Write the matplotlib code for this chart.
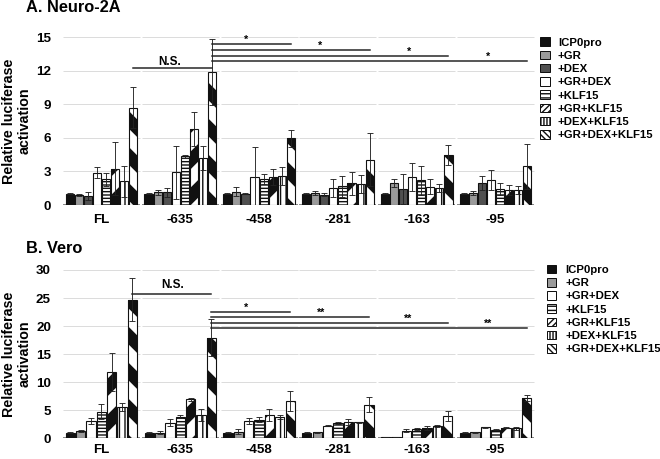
import matplotlib
matplotlib.use("Agg")
import matplotlib.pyplot as plt
from matplotlib.patches import Rectangle
from matplotlib.collections import LineCollection
from matplotlib.transforms import IdentityTransform
import numpy as np

plt.rcParams['font.family'] = ['Liberation Sans', 'DejaVu Sans']
plt.rcParams['font.weight'] = 'bold'

# ---------------- data ----------------
groups = ["FL", "-635", "-458", "-281", "-163", "-95"]

# Panel A: Neuro-2A
a_labels = ["ICP0pro", "+GR", "+DEX", "+GR+DEX", "+KLF15", "+GR+KLF15", "+DEX+KLF15", "+GR+DEX+KLF15"]
a_icp0 = [1.0, 1.0, 1.0, 1.0, 1.0, 1.0]
a_gr = [0.9, 1.13, 1.17, 1.07, 1.97, 1.07]
a_dex = [0.8, 1.13, 1.0, 0.93, 1.4, 1.97]
a_grdex = [2.87, 2.93, 2.5, 1.52, 2.5, 2.2]
a_klf = [2.3, 4.36, 2.33, 1.67, 2.2, 1.4]
a_grklf = [3.25, 6.78, 2.48, 1.94, 1.64, 1.34]
a_dexklf = [2.1, 4.2, 2.57, 1.85, 1.52, 1.34]
a_all = [8.7, 11.9, 5.94, 4.03, 4.5, 3.47]

a_icp0_err = [0.05, 0.05, 0.05, 0.05, 0.05, 0.05]
a_gr_err = [0.12, 0.24, 0.41, 0.18, 0.39, 0.21]
a_dex_err = [0.35, 0.42, 0.05, 0.17, 1.35, 0.6]
a_grdex_err = [0.48, 2.37, 2.64, 0.84, 1.23, 0.9]
a_klf_err = [0.6, 0.14, 0.42, 0.93, 1.32, 0.54]
a_grklf_err = [2.35, 1.52, 0.72, 1.02, 0.66, 0.48]
a_dexklf_err = [1.35, 1.1, 0.78, 0.81, 0.38, 0.36]
a_all_err = [1.8, 2.95, 0.76, 2.37, 0.9, 2.0]

a_ns_y = 12.22
a_sig_y = [14.37, 13.86, 13.33, 12.85]
a_sig_end = [2, 3, 4, 5]
a_sig_text = ["*", "*", "*", "*"]
a_sig_text_x = [1.83, 2.77, 3.90, 4.90]

# Panel B: Vero
b_labels = ["ICP0pro", "+GR", "+GR+DEX", "+KLF15", "+GR+KLF15", "+DEX+KLF15", "+GR+DEX+KLF15"]
b_icp0 = [1.0, 1.0, 1.0, 1.0, 0.25, 1.0]
b_gr = [1.3, 1.0, 1.2, 1.1, 0.2, 1.07]
b_grdex = [3.1, 2.8, 3.15, 2.26, 1.37, 1.96]
b_klf = [4.75, 3.86, 3.3, 2.67, 1.66, 1.55]
b_grklf = [11.8, 6.95, 4.1, 2.85, 1.85, 1.9]
b_dexklf = [5.6, 4.1, 3.8, 2.85, 2.2, 1.8]
b_all = [24.7, 17.9, 6.7, 6.0, 4.0, 7.13]

b_icp0_err = [0.1, 0.1, 0.1, 0.1, 0.05, 0.1]
b_gr_err = [0.25, 0.3, 0.4, 0.1, 0.05, 0.1]
b_grdex_err = [0.6, 0.65, 0.55, 0.15, 0.33, 0.14]
b_klf_err = [1.35, 0.24, 0.45, 0.15, 0.19, 0.1]
b_grklf_err = [3.35, 0.3, 1.1, 0.55, 0.35, 0.15]
b_dexklf_err = [0.75, 1.1, 0.35, 0.1, 0.25, 0.3]
b_all_err = [3.8, 3.3, 1.8, 1.4, 0.9, 0.57]

b_ns_y = 25.7
b_sig_y = [22.6, 21.6, 20.6, 19.7]
b_sig_end = [2, 3, 4, 5]
b_sig_text = ["*", "**", "**", "**"]
b_sig_text_x = [1.83, 2.79, 3.89, 4.90]

# ---------------- styles ----------------
# rendered at 200 dpi on a 3.3 x 2.295 in canvas -> 660 x 459 px
S = 0.5                 # point scale relative to a 100-dpi layout
PX = 72.0 / 200.0       # points per pixel
plt.rcParams['hatch.linewidth'] = 1.4 * PX

# fc, bar hatch, diagonal stripe direction (+1 '/', -1 '\'), legend hatch
styles = {
    "ICP0pro":        dict(fc="#111111", hatch=None, diag=0, lh=None),
    "+GR":            dict(fc="#9a9a9a", hatch=None, diag=0, lh=None),
    "+DEX":           dict(fc="#505050", hatch=None, diag=0, lh=None),
    "+GR+DEX":        dict(fc="white", hatch=None, diag=0, lh=None),
    "+KLF15":         dict(fc="white", hatch="-" * 10, diag=0, lh="-" * 8),
    "+GR+KLF15":      dict(fc="white", hatch=None, diag=1, lh="/" * 11),
    "+DEX+KLF15":     dict(fc="white", hatch="|" * 6, diag=0, lh="|" * 11),
    "+GR+DEX+KLF15":  dict(fc="white", hatch=None, diag=-1, lh="\\" * 11),
}
STRIPE_PERIOD = 36.0          # px, vertical period of wide diagonal stripes
STRIPE_LW = 12.5 * PX         # points

fs_tick = 9.6 * S
fs_ylab = 10.3 * S
fs_title = 11.8 * S
fs_leg = 8.2 * S
fs_sig = 8.5 * S

fig = plt.figure(figsize=(3.3, 2.295), dpi=200)
W, H = 660.0, 459.0


def add_stripes(ax, bars, sign):
    P = STRIPE_PERIOD
    for b in bars:
        bb = b.get_window_extent()
        x0, x1, y0, y1 = bb.x0, bb.x1, bb.y0, bb.y1
        if sign > 0:
            cmin, cmax = y0 - x1, y1 - x0
        else:
            cmin, cmax = y0 + x0, y1 + x1
        segs = []
        for k in range(int(np.floor(cmin / P)) - 1, int(np.ceil(cmax / P)) + 2):
            xs = np.array([x0 - 30, x1 + 30])
            ys = sign * xs + k * P
            segs.append(list(zip(xs, ys)))
        lc = LineCollection(segs, colors="#111111", linewidths=STRIPE_LW,
                            transform=IdentityTransform(), zorder=2.5)
        ax.add_collection(lc, autolim=False)
        lc.set_clip_path(b)


def panel(ax, labels, values, errs, ymax, ystep, ns_y, sig_y, sig_end, sig_text, sig_text_x,
          ns_xy, star_dy, tick_pad):
    n = len(labels)
    ng = len(groups)
    step = 0.92 / n
    x = np.arange(ng)
    last_off = ((n - 1) / 2.0) * step
    ax.set_xlim(-0.5, ng - 0.5)
    ax.set_ylim(0, ymax)
    yt = np.arange(0, ymax + 0.001, ystep)
    for i in range(ng):
        ax.hlines(yt[1:], i - 0.5 + 0.012, i + 0.5 - 0.012, color="#dcdcdc", lw=1.0 * PX, zorder=0)
        ax.hlines(0, i - 0.5 + 0.012, i + 0.5 - 0.012, color="#7f7f7f", lw=1.8 * PX, zorder=1)
    for j, (lab, v, e) in enumerate(zip(labels, values, errs)):
        st = styles[lab]
        off = (j - (n - 1) / 2.0) * step
        bars = ax.bar(x + off, v, width=step * 0.9, color=st["fc"], edgecolor="#111111",
                      linewidth=1.1 * PX, hatch=st["hatch"], zorder=2)
        if st["diag"]:
            add_stripes(ax, bars, st["diag"])
        ax.errorbar(x + off, v, yerr=e, fmt="none", ecolor="#222222", elinewidth=0.9 * PX,
                    capsize=2.6 * PX, capthick=0.9 * PX, zorder=3)
    x0 = 0 + last_off
    x1 = 1 + last_off
    lw_sig = 1.5 * PX
    ax.plot([x0, x1], [ns_y, ns_y], color="#222222", lw=lw_sig, zorder=4, clip_on=False)
    ax.text(ns_xy[0], ns_xy[1], "N.S.", ha="center", va="center", fontsize=fs_sig, fontweight="bold")
    for yy, ge, tt, tx in zip(sig_y, sig_end, sig_text, sig_text_x):
        ax.plot([x1, ge + last_off], [yy, yy], color="#222222", lw=lw_sig, zorder=4, clip_on=False)
        ax.text(tx, yy + star_dy, tt, ha="center", va="baseline", fontsize=fs_sig * 0.9,
                fontweight="bold", clip_on=False)
    ax.set_yticks(yt)
    ax.set_yticklabels([str(int(t)) for t in yt])
    ax.set_xticks(x)
    ax.set_xticklabels(groups)
    ax.tick_params(axis="both", length=0, labelsize=fs_tick)
    ax.tick_params(axis="y", pad=11 * PX)
    ax.tick_params(axis="x", pad=tick_pad * PX)
    for lab in ax.get_xticklabels() + ax.get_yticklabels():
        lab.set_fontweight("bold")
    for sp in ax.spines.values():
        sp.set_visible(False)
    ax.patch.set_alpha(0)


def legend(labels, mx, tx, y_first, dy):
    for k, lab in enumerate(labels):
        st = styles[lab]
        yc = y_first + k * dy
        r = Rectangle((mx / W, 1 - (yc + 4.3) / H), 9.5 / W, 8.6 / H, transform=fig.transFigure,
                      facecolor=st["fc"], edgecolor="#111111", linewidth=1.0 * PX, hatch=st["lh"])
        fig.add_artist(r)
        fig.text(tx / W, 1 - yc / H, lab, ha="left", va="center_baseline", fontsize=fs_leg,
                 fontweight="bold")


axA = fig.add_axes([62 / W, (H - 205) / H, (535 - 62) / W, (205 - 37) / H])
panel(axA, a_labels,
      [a_icp0, a_gr, a_dex, a_grdex, a_klf, a_grklf, a_dexklf, a_all],
      [a_icp0_err, a_gr_err, a_dex_err, a_grdex_err, a_klf_err, a_grklf_err, a_dexklf_err, a_all_err],
      15, 3, a_ns_y, a_sig_y, a_sig_end, a_sig_text, a_sig_text_x, (0.87, 12.77), 0.1, 9)

axB = fig.add_axes([62 / W, (H - 438.3) / H, (535 - 62) / W, (438.3 - 270) / H])
panel(axB, b_labels,
      [b_icp0, b_gr, b_grdex, b_klf, b_grklf, b_dexklf, b_all],
      [b_icp0_err, b_gr_err, b_grdex_err, b_klf_err, b_grklf_err, b_dexklf_err, b_all_err],
      30, 5, b_ns_y, b_sig_y, b_sig_end, b_sig_text, b_sig_text_x, (0.90, 27.3), 0.2, 6)

legend(a_labels, 540, 558, 41.7, 13.23)
legend(b_labels, 546.5, 565, 269, 13.22)

fig.text(26 / W, 1 - 7.5 / H, "A. Neuro-2A", ha="left", va="center", fontsize=fs_title, fontweight="bold")
fig.text(26 / W, 1 - 248.7 / H, "B. Vero", ha="left", va="center", fontsize=fs_title, fontweight="bold")
fig.text(17 / W, 1 - 121 / H, "Relative luciferase\nactivation", rotation=90, ha="center", va="center",
         fontsize=fs_ylab, fontweight="bold", linespacing=1.15)
fig.text(17 / W, 1 - 354 / H, "Relative luciferase\nactivation", rotation=90, ha="center", va="center",
         fontsize=fs_ylab, fontweight="bold", linespacing=1.15)

fig.savefig("out.png", dpi=200, facecolor="white")
